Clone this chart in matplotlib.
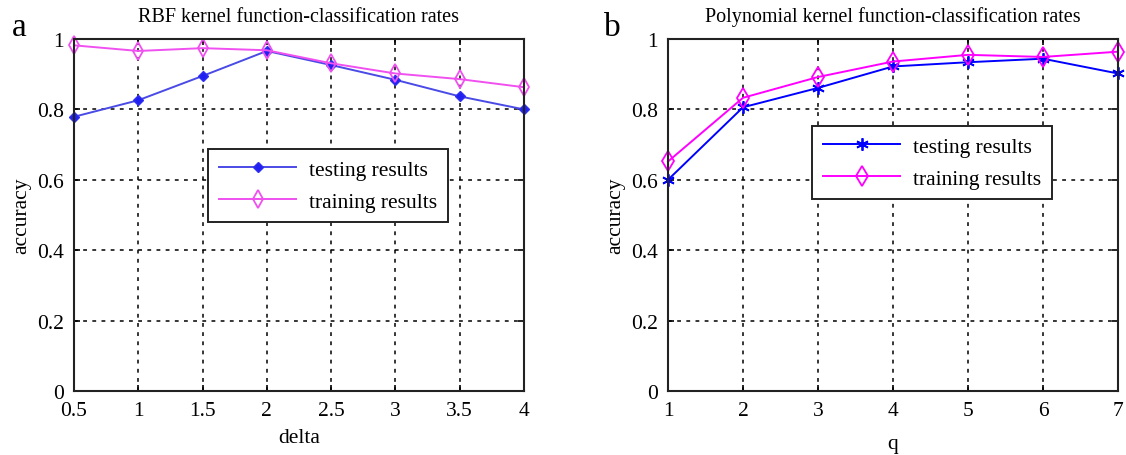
import numpy as np
import matplotlib.pyplot as plt

plt.rcParams['font.family'] = ['Liberation Serif', 'DejaVu Serif']

# panel a: RBF kernel
delta = [0.5, 1, 1.5, 2, 2.5, 3, 3.5, 4]
rbf_test = [0.779, 0.826, 0.895, 0.966, 0.926, 0.884, 0.837, 0.800]
rbf_train = [0.982, 0.966, 0.974, 0.968, 0.931, 0.902, 0.886, 0.863]

# panel b: polynomial kernel
q = [1, 2, 3, 4, 5, 6, 7]
poly_test = [0.600, 0.806, 0.861, 0.922, 0.934, 0.944, 0.902]
poly_train = [0.652, 0.833, 0.892, 0.936, 0.955, 0.949, 0.964]

yticks = [0, 0.2, 0.4, 0.6, 0.8, 1]
ytick_labels = ['0', '0.2', '0.4', '0.6', '0.8', '1']

fig = plt.figure(figsize=(11.26, 4.56), dpi=100)
ax1 = fig.add_axes([74 / 1126, 1 - 392 / 456, 450 / 1126, 352 / 456])
ax2 = fig.add_axes([668 / 1126, 1 - 392 / 456, 450 / 1126, 352 / 456])

FS = 15.5


def style(ax, xticks, xlabels):
    ax.set_ylim(0, 1)
    ax.set_xlim(xticks[0], xticks[-1])
    ax.set_xticks(xticks)
    ax.set_xticklabels(xlabels)
    ax.set_yticks(yticks)
    ax.set_yticklabels(ytick_labels)
    ax.grid(True, color='black', linestyle=(0, (2.5, 3.5)), linewidth=1.1)
    ax.tick_params(direction='in', top=True, right=True, length=4,
                   labelsize=FS, pad=7, width=1.2)
    for s in ax.spines.values():
        s.set_linewidth(1.5)
        s.set_color('#222222')
    ax.set_ylabel('accuracy', fontsize=FS, labelpad=4)


def legend(ax, anchor):
    leg = ax.legend(loc='upper left', bbox_to_anchor=anchor, fontsize=FS,
                    handlelength=3.6, fancybox=False, framealpha=1,
                    edgecolor='#222222', borderpad=0.5, labelspacing=0.55,
                    borderaxespad=0, handletextpad=0.6)
    leg.get_frame().set_linewidth(1.4)


# left
ax1.plot(delta, rbf_test, color='#4a4ae6', lw=1.4, marker='D', ms=5,
         mfc='#2020f0', mec='#3030f0', label='testing results')
ax1.plot(delta, rbf_train, color='#f050f0', lw=1.4, marker='d', ms=9,
         mfc='none', mec='#f050f0', mew=1.3, label='training results')
style(ax1, delta, ['0.5', '1', '1.5', '2', '2.5', '3', '3.5', '4'])
for ln in ax1.get_lines():
    ln.set_clip_on(False)
ax1.set_xlabel('delta', fontsize=FS, labelpad=6)
ax1.set_title('RBF kernel function-classification rates', fontsize=14.5, pad=13)
legend(ax1, (0.298, 0.688))

# right
ax2.plot(q, poly_test, color='#0000ff', lw=1.4, marker=(6, 2, 0), ms=9,
         mfc='#0000ff', mec='#0000ff', mew=1.3, label='testing results')
ax2.plot(q, poly_train, color='#ff00ff', lw=1.4, marker='d', ms=10,
         mfc='none', mec='#ff00ff', mew=1.3, label='training results')
style(ax2, q, [str(v) for v in q])
for ln in ax2.get_lines():
    ln.set_clip_on(False)
ax2.set_xlabel('q', fontsize=FS, labelpad=10)
ax2.set_title('Polynomial kernel function-classification rates', fontsize=14.5, pad=13)
legend(ax2, (0.32, 0.753))

fig.text(12 / 1126, 1 - 28 / 456, 'a', fontsize=24, va='center', ha='left')
fig.text(604 / 1126, 1 - 28 / 456, 'b', fontsize=24, va='center', ha='left')

fig.savefig('out.png', dpi=100)
